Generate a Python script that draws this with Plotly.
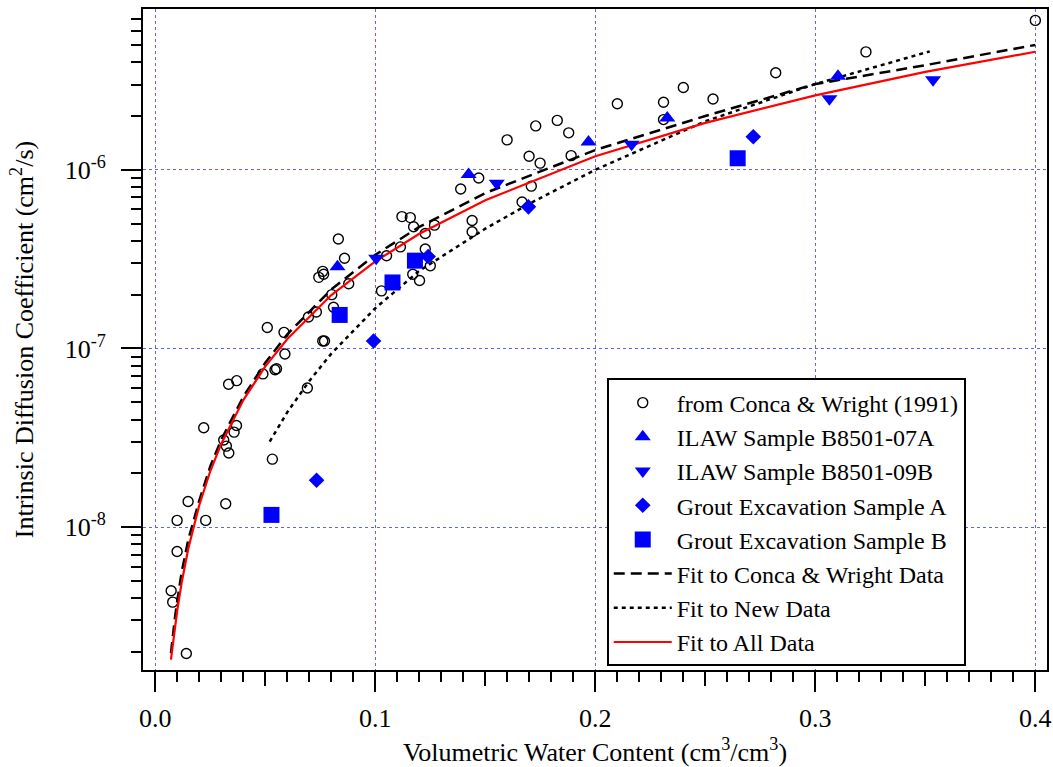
import plotly.graph_objects as go

# ---------------- data ----------------
cw_theta = [0.400, 0.323, 0.282, 0.240, 0.2535, 0.231, 0.210, 0.231, 0.1827, 0.1729,
            0.1879, 0.1599, 0.1699, 0.189, 0.1749, 0.147, 0.1388, 0.1709, 0.1667, 0.144,
            0.144, 0.1121, 0.1159, 0.1174, 0.1269, 0.1227, 0.1114, 0.1051, 0.1028, 0.1227,
            0.125, 0.117, 0.1201, 0.0832, 0.086, 0.0743, 0.0761, 0.0765, 0.0879, 0.0802,
            0.081, 0.0732, 0.0696, 0.0761, 0.0769, 0.0509, 0.0585, 0.0589, 0.0489, 0.0544,
            0.0551, 0.0333, 0.037, 0.0691, 0.022, 0.0369, 0.0358, 0.0311, 0.0323, 0.0334,
            0.0532, 0.0149, 0.0099, 0.0229, 0.032, 0.0099, 0.0072, 0.0079, 0.0141]
cw_D = [6.86e-6, 4.57e-6, 3.49e-6, 2.89e-6, 2.49e-6, 2.39e-6, 2.34e-6, 1.91e-6, 1.89e-6, 1.76e-6,
        1.61e-6, 1.47e-6, 1.19e-6, 1.20e-6, 1.09e-6, 9.0e-7, 7.8e-7, 8.1e-7, 6.6e-7, 5.2e-7,
        4.5e-7, 5.47e-7, 5.4e-7, 4.8e-7, 4.9e-7, 4.4e-7, 3.7e-7, 3.3e-7, 2.1e-7, 3.6e-7,
        2.9e-7, 2.6e-7, 2.4e-7, 4.1e-7, 3.2e-7, 2.5e-7, 2.7e-7, 2.6e-7, 2.3e-7, 2.0e-7,
        1.7e-7, 1.6e-7, 1.5e-7, 1.1e-7, 1.1e-7, 1.31e-7, 1.23e-7, 9.3e-8, 7.2e-8, 7.6e-8,
        7.7e-8, 6.3e-8, 6.6e-8, 6.0e-8, 3.6e-8, 3.7e-8, 3.4e-8, 3.07e-8, 2.84e-8, 2.6e-8,
        2.4e-8, 1.39e-8, 1.09e-8, 1.09e-8, 1.35e-8, 7.3e-9, 4.4e-9, 3.8e-9, 1.96e-9]

ilaw07a_theta = [0.0828, 0.1424, 0.1969, 0.2327, 0.3103]
ilaw07a_D = [2.87e-7, 9.4e-7, 1.43e-6, 1.95e-6, 3.34e-6]

ilaw09b_theta = [0.1004, 0.1552, 0.2165, 0.3064, 0.3535]
ilaw09b_D = [3.2e-7, 8.4e-7, 1.39e-6, 2.5e-6, 3.19e-6]

groutA_theta = [0.0733, 0.0992, 0.124, 0.1696, 0.2718]
groutA_D = [1.83e-8, 1.1e-7, 3.27e-7, 6.2e-7, 1.53e-6]

groutB_theta = [0.0528, 0.0838, 0.1078, 0.118, 0.2647]
groutB_D = [1.17e-8, 1.54e-7, 2.34e-7, 3.1e-7, 1.16e-6]

fit_cw_theta = [0.0071, 0.008, 0.009, 0.01, 0.012, 0.015, 0.02, 0.025, 0.03, 0.04, 0.05,
                0.06, 0.08, 0.1, 0.12, 0.15, 0.2, 0.25, 0.3, 0.35, 0.4]
fit_cw_D = [1.97e-9, 2.51e-9, 3.16e-9, 3.89e-9, 5.62e-9, 8.51e-9, 1.41e-8, 2.19e-8, 3.09e-8,
            5.37e-8, 8.32e-8, 1.20e-7, 2.14e-7, 3.34e-7, 4.79e-7, 7.41e-7, 1.29e-6, 2.00e-6,
            3.02e-6, 3.85e-6, 5.00e-6]

fit_new_theta = [0.052, 0.06, 0.07, 0.08, 0.1, 0.12, 0.15, 0.17, 0.2, 0.25, 0.3, 0.352]
fit_new_D = [3.01e-8, 4.40e-8, 6.58e-8, 9.35e-8, 1.68e-7, 2.72e-7, 4.68e-7, 6.46e-7,
             1.00e-6, 1.87e-6, 3.02e-6, 4.60e-6]

fit_all_theta = [0.0071, 0.008, 0.009, 0.01, 0.012, 0.015, 0.02, 0.025, 0.03, 0.04, 0.05,
                 0.06, 0.08, 0.1, 0.12, 0.15, 0.2, 0.25, 0.3, 0.35, 0.4]
fit_all_D = [1.81e-9, 2.23e-9, 2.80e-9, 3.44e-9, 4.91e-9, 7.59e-9, 1.33e-8, 2.06e-8, 2.93e-8,
             5.14e-8, 7.94e-8, 1.13e-7, 1.99e-7, 3.07e-7, 4.38e-7, 6.76e-7, 1.19e-6, 1.83e-6,
             2.61e-6, 3.53e-6, 4.58e-6]

x_tick_vals = [0.0, 0.1, 0.2, 0.3, 0.4]
x_tick_text = ["0.0", "0.1", "0.2", "0.3", "0.4"]
x_mid_tick_vals = [0.05, 0.15, 0.25, 0.35]
y_tick_vals = [1e-8, 1e-7, 1e-6]
y_tick_text = ["10<sup>-8</sup>", "10<sup>-7</sup>", "10<sup>-6</sup>"]

names = ["from Conca & Wright (1991)", "ILAW Sample B8501-07A", "ILAW Sample B8501-09B",
         "Grout Excavation Sample A", "Grout Excavation Sample B",
         "Fit to Conca & Wright Data", "Fit to New Data", "Fit to All Data"]

# ---------------- figure ----------------
FONT = "Liberation Serif, Times New Roman, serif"
BLUE = "#0000FF"
GRID = "#6060FF"

fig = go.Figure()

fig.add_trace(go.Scatter(x=cw_theta, y=cw_D, mode="markers", name=names[0], legendrank=1,
                         marker=dict(symbol="circle-open", size=10, color="black",
                                     line=dict(width=1.4, color="black"))))
fig.add_trace(go.Scatter(x=fit_cw_theta, y=fit_cw_D, mode="lines", name=names[5], legendrank=6,
                         line=dict(color="black", width=2.5, dash="11px,6px")))
fig.add_trace(go.Scatter(x=fit_new_theta, y=fit_new_D, mode="lines", name=names[6], legendrank=7,
                         line=dict(color="black", width=2.5, dash="4px,4px")))
fig.add_trace(go.Scatter(x=fit_all_theta, y=fit_all_D, mode="lines", name=names[7], legendrank=8,
                         line=dict(color="#FF0000", width=2.2)))
fig.add_trace(go.Scatter(x=ilaw07a_theta, y=ilaw07a_D, mode="markers", name=names[1], legendrank=2,
                         marker=dict(symbol="triangle-up", size=14, color=BLUE)))
fig.add_trace(go.Scatter(x=ilaw09b_theta, y=ilaw09b_D, mode="markers", name=names[2], legendrank=3,
                         marker=dict(symbol="triangle-down", size=14, color=BLUE)))
fig.add_trace(go.Scatter(x=groutA_theta, y=groutA_D, mode="markers", name=names[3], legendrank=4,
                         marker=dict(symbol="diamond", size=12, color=BLUE)))
fig.add_trace(go.Scatter(x=groutB_theta, y=groutB_D, mode="markers", name=names[4], legendrank=5,
                         marker=dict(symbol="square", size=16, color=BLUE)))

# helper trace on overlay axis that carries the medium x ticks
fig.add_trace(go.Scatter(x=[None], y=[None], xaxis="x2", showlegend=False, hoverinfo="skip"))

XR = [-0.0056, 0.4053]
fig.update_layout(
    width=1053, height=767,
    margin=dict(l=143, r=6, t=9, b=97),
    paper_bgcolor="white", plot_bgcolor="white",
    font=dict(family=FONT, size=26, color="black"),
    showlegend=True,
    legend=dict(x=0.513, y=0.441, xanchor="left", yanchor="top",
                bgcolor="white", bordercolor="black", borderwidth=2,
                font=dict(family=FONT, size=24, color="black"),
                itemwidth=58, traceorder="normal"),
    xaxis=dict(
        range=XR, showline=True, linecolor="black", linewidth=2, mirror=True,
        tickmode="array", tickvals=x_tick_vals, ticktext=x_tick_text,
        ticks="outside", ticklen=20, tickwidth=2, tickcolor="black",
        ticklabelstandoff=4, ticklabeloverflow="allow",
        tickfont=dict(family=FONT, size=26),
        showgrid=True, gridcolor=GRID, gridwidth=1, griddash="dot",
        zeroline=False,
        minor=dict(tickmode="linear", tick0=0, dtick=0.01, ticks="outside", ticklen=10,
                   tickwidth=2, tickcolor="black", showgrid=False),
        title=dict(text="Volumetric Water Content (cm<sup>3</sup>/cm<sup>3</sup>)",
                   font=dict(family=FONT, size=26), standoff=14),
        automargin=False,
    ),
    xaxis2=dict(
        range=XR, overlaying="x", side="bottom", anchor="y",
        showline=False, showgrid=False, zeroline=False, showticklabels=False,
        tickmode="array", tickvals=x_mid_tick_vals,
        ticks="outside", ticklen=15, tickwidth=2, tickcolor="black",
    ),
    yaxis=dict(
        type="log", range=[-8.80, -5.10],
        showline=True, linecolor="black", linewidth=2, mirror=True,
        tickmode="array", tickvals=y_tick_vals, ticktext=y_tick_text,
        ticks="outside", ticklen=20, tickwidth=2, tickcolor="black",
        ticklabelstandoff=10,
        tickfont=dict(family=FONT, size=26),
        showgrid=True, gridcolor=GRID, gridwidth=1, griddash="dot",
        zeroline=False,
        minor=dict(dtick="D1", ticks="outside", ticklen=10, tickwidth=2,
                   tickcolor="black", showgrid=False),
        title=dict(text="Intrinsic Diffusion Coefficient (cm<sup>2</sup>/s)",
                   font=dict(family=FONT, size=26), standoff=24),
        automargin=False,
    ),
)

# remove the page's default 8px body margin so the 1053x767 figure fills the window
fig.write_html("out.html",
               config={"displayModeBar": False},
               post_script="document.body.style.margin='0';document.body.style.overflow='hidden';")
